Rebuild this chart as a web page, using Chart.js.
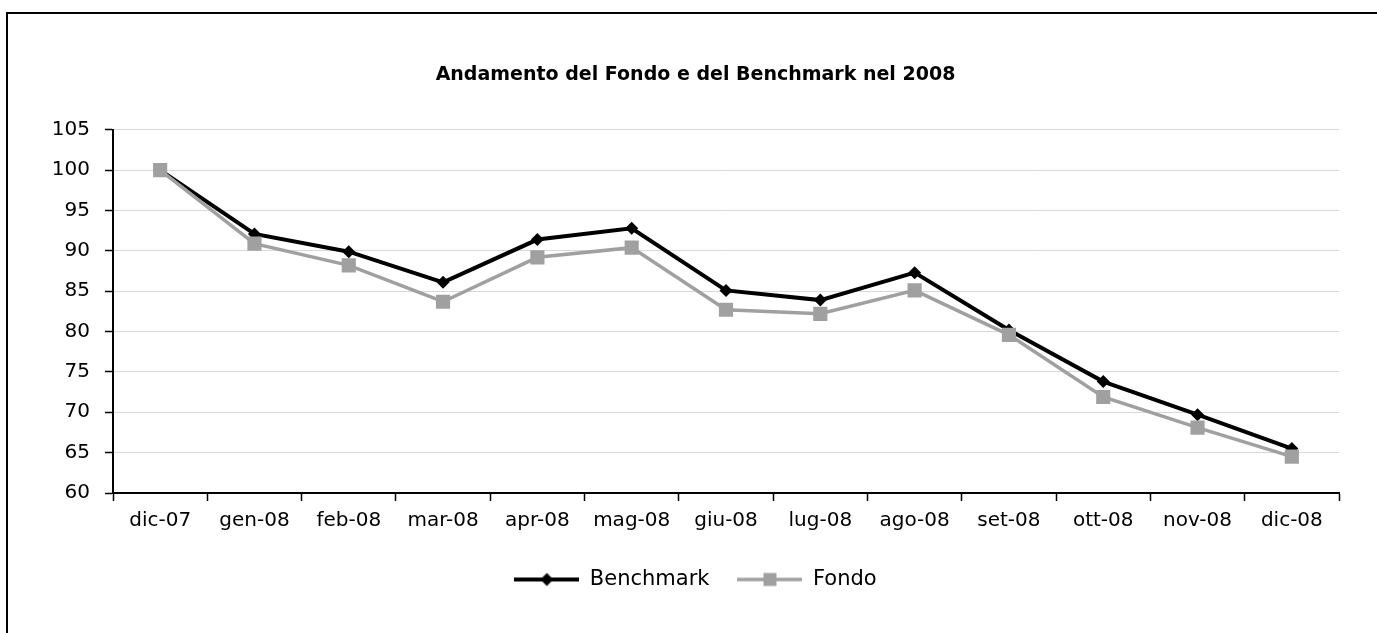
<!DOCTYPE html>
<html>
<head>
<meta charset="utf-8">
<script src="https://cdn.jsdelivr.net/npm/chart.js@4"></script>
<style>
  html, body { margin: 0; padding: 0; background: #fff; }
  #wrap { position: relative; width: 1377px; height: 633px; }
  #frame {
    position: absolute; left: 6px; top: 12px; right: -10px; bottom: -10px;
    border-left: 2px solid #000; border-top: 2px solid #000;
    pointer-events: none;
  }
</style>
</head>
<body>
<div id="wrap">
  <canvas id="chart" width="1377" height="633"></canvas>
  <div id="frame"></div>
</div>
<script>
// Andamento del Fondo e del Benchmark nel 2008
const months = ["dic-07", "gen-08", "feb-08", "mar-08", "apr-08", "mag-08", "giu-08",
  "lug-08", "ago-08", "set-08", "ott-08", "nov-08", "dic-08"];
const benchmark = [100, 92.1, 89.9, 86.1, 91.4, 92.8, 85.1, 83.9, 87.3, 80.2, 73.8, 69.7, 65.5];
const fondo = [100, 90.9, 88.2, 83.7, 89.2, 90.4, 82.7, 82.2, 85.1, 79.6, 71.9, 68.1, 64.5];
const yTicks = [60, 65, 70, 75, 80, 85, 90, 95, 100, 105];

const black = "#000000";
const grey = "#a0a0a0";
const font = "'DejaVu Sans', sans-serif";

// legend icon: line with marker in the middle, Excel style
function legendIcon(color, shape, lw) {
  const c = document.createElement("canvas");
  c.width = 65;
  c.height = 20;
  const ctx = c.getContext("2d");
  ctx.strokeStyle = color;
  ctx.lineWidth = lw;
  ctx.beginPath();
  ctx.moveTo(0, 10);
  ctx.lineTo(65, 10);
  ctx.stroke();
  ctx.fillStyle = color;
  if (shape === "diamond") {
    ctx.beginPath();
    ctx.moveTo(32.5, 3.5);
    ctx.lineTo(39, 10);
    ctx.lineTo(32.5, 16.5);
    ctx.lineTo(26, 10);
    ctx.closePath();
    ctx.fill();
  } else {
    ctx.fillRect(26, 3.5, 13, 13);
  }
  return c;
}
const icons = [legendIcon(black, "diamond", 4), legendIcon(grey, "square", 3.5)];

new Chart(document.getElementById("chart"), {
  type: "line",
  data: {
    labels: months,
    datasets: [
      {
        label: "Benchmark",
        data: benchmark,
        borderColor: black,
        backgroundColor: black,
        borderWidth: 4,
        tension: 0,
        pointStyle: "rectRot",
        pointRadius: 6.5,
        pointBorderWidth: 0,
        pointBackgroundColor: black,
        order: 1,
      },
      {
        label: "Fondo",
        data: fondo,
        borderColor: grey,
        backgroundColor: grey,
        borderWidth: 3.5,
        tension: 0,
        pointStyle: "rect",
        pointRadius: 10,
        pointBorderWidth: 0,
        pointBackgroundColor: grey,
        order: 0,
      },
    ],
  },
  options: {
    responsive: false,
    animation: false,
    layout: { padding: { left: 52, right: 38, top: 0, bottom: 33 } },
    plugins: {
      title: {
        display: true,
        text: "Andamento del Fondo e del Benchmark nel 2008",
        color: black,
        font: { family: font, size: 19, weight: "bold" },
        padding: { top: 64, bottom: 43 },
      },
      legend: {
        position: "bottom",
        labels: {
          color: black,
          font: { family: font, size: 21 },
          usePointStyle: true,
          pointStyleWidth: 65,
          padding: 28,
          generateLabels: (chart) =>
            chart.data.datasets.map((ds, i) => ({
              text: ds.label,
              pointStyle: icons[i],
              fillStyle: ds.borderColor,
              strokeStyle: ds.borderColor,
              lineWidth: 0,
              hidden: false,
              datasetIndex: i,
              fontColor: black,
            })),
        },
      },
      tooltip: { enabled: false },
    },
    scales: {
      x: {
        offset: true,
        grid: {
          offset: true,
          drawOnChartArea: false,
          tickColor: black,
          tickLength: 8,
          tickWidth: 1.5,
        },
        border: { color: black, width: 2 },
        ticks: {
          color: black,
          font: { family: font, size: 20 },
          padding: 8,
          maxRotation: 0,
          autoSkip: false,
        },
        afterFit: (scale) => { scale.height = 48; },
      },
      y: {
        min: yTicks[0],
        max: yTicks[yTicks.length - 1],
        afterBuildTicks: (scale) => { scale.ticks = yTicks.map((v) => ({ value: v })); },
        grid: {
          color: "#d9d9d9",
          lineWidth: 1,
          tickColor: black,
          tickLength: 8,
          tickWidth: 1.5,
        },
        border: { color: black, width: 2 },
        ticks: {
          color: black,
          font: { family: font, size: 20 },
          padding: 15,
        },
        afterFit: (scale) => { scale.width = 61; },
      },
    },
  },
});
</script>
</body>
</html>
